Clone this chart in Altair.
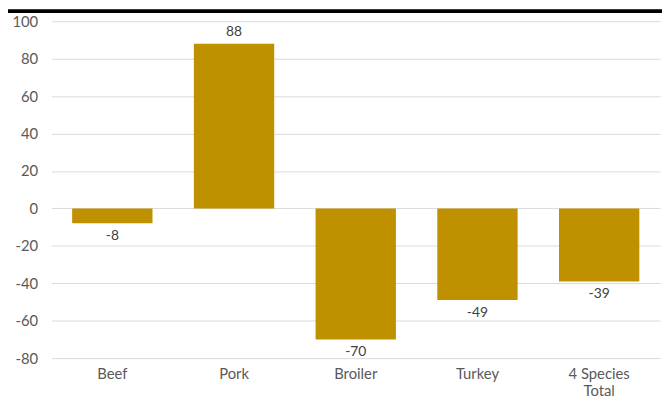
import altair as alt
import pandas as pd

categories = ["Beef", "Pork", "Broiler", "Turkey", "4 Species Total"]
values = [-8, 88, -70, -49, -39]
y_ticks = [-80, -60, -40, -20, 0, 20, 40, 60, 80, 100]

df = pd.DataFrame({"cat": categories, "val": values})
FONT = "Lato"
COLOR = "#BF9000"

base = alt.Chart(df).encode(
    x=alt.X("cat:N", sort=categories, title=None,
            scale=alt.Scale(paddingInner=0.34, paddingOuter=0.17),
            axis=alt.Axis(labelAngle=0, domain=False, ticks=False, labelPadding=9,
                          labelFont=FONT, labelFontSize=15, labelColor="#595959",
                          labelExpr="datum.label == '4 Species Total' ? ['4 Species', 'Total'] : datum.label")),
    y=alt.Y("val:Q", title=None,
            scale=alt.Scale(domain=[-80, 100], nice=False),
            axis=alt.Axis(values=y_ticks, domain=False, ticks=False,
                          gridColor="#D9D9D9", labelPadding=14, labelOverlap=False,
                          labelExpr="toString(datum.value)",
                          labelFont=FONT, labelFontSize=15, labelColor="#595959")),
).transform_calculate(lbl="toString(datum.val)")

bars = base.mark_bar(color=COLOR)

pos = base.mark_text(dy=-12, font=FONT, fontSize=14, color="#404040").encode(
    text="lbl:N").transform_filter("datum.val >= 0")
neg = base.mark_text(dy=13, font=FONT, fontSize=14, color="#404040").encode(
    text="lbl:N").transform_filter("datum.val < 0")

line = alt.Chart(df).mark_rule(color="black", strokeWidth=3).encode(
    x=alt.value(-60), x2=alt.value(640), y=alt.value(-10))

chart = alt.layer(bars, pos, neg, line).properties(
    width=616, height=341,
    autosize=alt.AutoSizeParams(type="none"),
    padding={"left": 44, "top": 11, "right": 2, "bottom": 40},
).configure_view(stroke=None)

chart.save("out.html", embed_options={"renderer": "svg", "actions": False})
